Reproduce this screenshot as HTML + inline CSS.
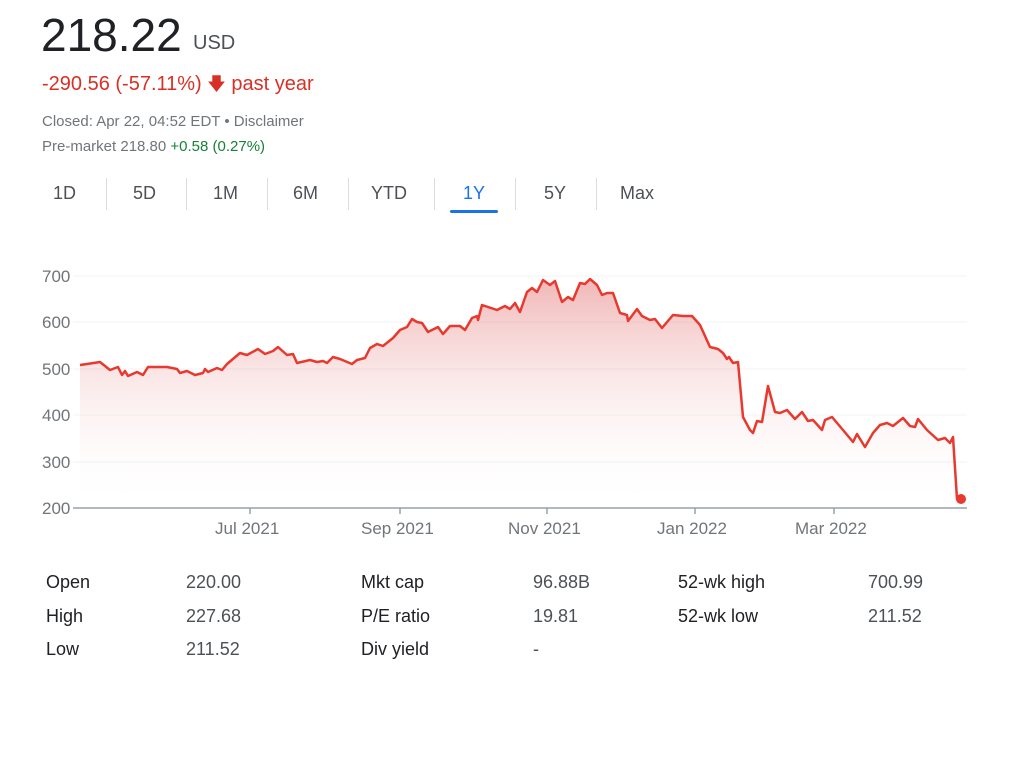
<!DOCTYPE html>
<html><head><meta charset="utf-8"><style>
body{margin:0;width:1024px;height:768px;background:#fff;font-family:"Liberation Sans",Arial,sans-serif;position:relative;overflow:hidden;color:#202124}
.a{position:absolute;white-space:nowrap}
.tab{position:absolute;top:183px;font-size:18px;color:#4d5156}
.sep{position:absolute;top:178px;width:1px;height:32px;background:#dadce0}
.st{position:absolute;font-size:18px;color:#202124}
.sv{position:absolute;font-size:18px;color:#4d5156}
</style></head><body>
<div class="a" style="left:41px;top:8px;font-size:46px;color:#202124">218.22</div>
<div class="a" style="left:193px;top:32px;font-size:20px;color:#4d5156">USD</div>
<div class="a" style="left:42px;top:72px;font-size:20px;color:#d93025">-290.56 (-57.11%) <span style="font-size:18px">&#129095;</span> past year</div>
<div class="a" style="left:42px;top:113px;font-size:15px;color:#70757a">Closed: Apr 22, 04:52 EDT • Disclaimer</div>
<div class="a" style="left:42px;top:138px;font-size:15px;color:#70757a">Pre-market 218.80 <span style="color:#188038">+0.58 (0.27%)</span></div>
<div class="tab" style="left:53px">1D</div><div class="sep" style="left:106px"></div>
<div class="tab" style="left:133px">5D</div><div class="sep" style="left:186px"></div>
<div class="tab" style="left:213px">1M</div><div class="sep" style="left:267px"></div>
<div class="tab" style="left:293px">6M</div><div class="sep" style="left:348px"></div>
<div class="tab" style="left:371px">YTD</div><div class="sep" style="left:434px"></div>
<div class="tab" style="left:463px;color:#1a73e8">1Y</div>
<div class="a" style="left:450px;top:210px;width:48px;height:3px;background:#1a73e8;border-radius:2px"></div>
<div class="sep" style="left:515px"></div>
<div class="tab" style="left:544px">5Y</div><div class="sep" style="left:596px"></div>
<div class="tab" style="left:620px">Max</div>
<svg class="a" style="left:0;top:0" width="1024" height="768">
<defs><linearGradient id="g" gradientUnits="userSpaceOnUse" x1="0" y1="280" x2="0" y2="508"><stop offset="0" stop-color="#e06060" stop-opacity="0.45"/><stop offset="1" stop-color="#fff" stop-opacity="0"/></linearGradient></defs>
<g stroke="#f1f3f4" stroke-width="1">
<line x1="73" y1="276" x2="967" y2="276"/><line x1="73" y1="322" x2="967" y2="322"/><line x1="73" y1="369" x2="967" y2="369"/><line x1="73" y1="415" x2="967" y2="415"/><line x1="73" y1="462" x2="967" y2="462"/></g>
<g font-size="17" fill="#70757a" font-family="Liberation Sans,Arial,sans-serif">
<text x="42" y="282">700</text><text x="42" y="328">600</text><text x="42" y="375">500</text><text x="42" y="421">400</text><text x="42" y="468">300</text><text x="42" y="514">200</text>
<text x="215" y="534">Jul 2021</text><text x="361" y="534">Sep 2021</text><text x="508" y="534">Nov 2021</text><text x="657" y="534">Jan 2022</text><text x="795" y="534">Mar 2022</text></g>
<path d="M80,365 L87,364 100,362 110,370 118,367 122,375 125,371 128,376 137,372 143,375 148,367 157,367 167,367 177,369 180,373 187,371 195,375 203,373 205,369 208,372 217,368 222,370 227,364 240,353 247,355 258,349 265,354 273,351 278,347 287,355 293,354 297,363 310,360 317,362 323,361 327,363 333,357 340,359 352,364 357,360 365,358 370,348 377,344 383,346 393,338 400,330 407,327 412,319 417,322 422,323 428,332 438,327 443,334 450,326 460,326 465,330 472,318 477,316 478,320 482,305 488,307 497,310 505,306 510,309 515,303 520,312 527,292 532,288 537,292 543,280 550,285 555,281 562,302 568,297 573,300 580,283 585,284 590,279 597,285 602,295 607,293 613,293 620,313 627,315 628,321 637,309 642,316 650,320 655,319 662,328 673,315 683,316 692,316 700,325 710,347 718,349 723,353 727,359 729,357 733,363 738,362 743,417 750,430 753,433 757,421 762,422 768,386 775,412 780,413 787,410 795,419 802,412 808,421 813,420 822,430 825,420 832,417 843,430 853,442 857,434 865,447 873,433 880,425 887,423 893,426 903,418 910,426 915,427 918,419 927,430 938,440 945,438 950,443 953,437 957,499 961,499 L961,508 80,508Z" fill="url(#g)" stroke="none"/>
<line x1="73" y1="508" x2="967" y2="508" stroke="#9aa0a6" stroke-width="1.5"/>
<g stroke="#9aa0a6" stroke-width="1.5"><line x1="250" y1="508" x2="250" y2="514"/><line x1="400" y1="508" x2="400" y2="514"/><line x1="547" y1="508" x2="547" y2="514"/><line x1="695" y1="508" x2="695" y2="514"/><line x1="834" y1="508" x2="834" y2="514"/></g>
<path d="M80,365 L87,364 100,362 110,370 118,367 122,375 125,371 128,376 137,372 143,375 148,367 157,367 167,367 177,369 180,373 187,371 195,375 203,373 205,369 208,372 217,368 222,370 227,364 240,353 247,355 258,349 265,354 273,351 278,347 287,355 293,354 297,363 310,360 317,362 323,361 327,363 333,357 340,359 352,364 357,360 365,358 370,348 377,344 383,346 393,338 400,330 407,327 412,319 417,322 422,323 428,332 438,327 443,334 450,326 460,326 465,330 472,318 477,316 478,320 482,305 488,307 497,310 505,306 510,309 515,303 520,312 527,292 532,288 537,292 543,280 550,285 555,281 562,302 568,297 573,300 580,283 585,284 590,279 597,285 602,295 607,293 613,293 620,313 627,315 628,321 637,309 642,316 650,320 655,319 662,328 673,315 683,316 692,316 700,325 710,347 718,349 723,353 727,359 729,357 733,363 738,362 743,417 750,430 753,433 757,421 762,422 768,386 775,412 780,413 787,410 795,419 802,412 808,421 813,420 822,430 825,420 832,417 843,430 853,442 857,434 865,447 873,433 880,425 887,423 893,426 903,418 910,426 915,427 918,419 927,430 938,440 945,438 950,443 953,437 957,499 961,499" fill="none" stroke="#e8392e" stroke-width="2.5" stroke-linejoin="round"/>
<circle cx="961" cy="499" r="5" fill="#e8392e"/>
</svg>
<div class="st" style="left:46px;top:572px">Open</div><div class="sv" style="left:186px;top:572px">220.00</div>
<div class="st" style="left:46px;top:606px">High</div><div class="sv" style="left:186px;top:606px">227.68</div>
<div class="st" style="left:46px;top:639px">Low</div><div class="sv" style="left:186px;top:639px">211.52</div>
<div class="st" style="left:361px;top:572px">Mkt cap</div><div class="sv" style="left:533px;top:572px">96.88B</div>
<div class="st" style="left:361px;top:606px">P/E ratio</div><div class="sv" style="left:533px;top:606px">19.81</div>
<div class="st" style="left:361px;top:639px">Div yield</div><div class="sv" style="left:533px;top:639px">-</div>
<div class="st" style="left:678px;top:572px">52-wk high</div><div class="sv" style="left:868px;top:572px">700.99</div>
<div class="st" style="left:678px;top:606px">52-wk low</div><div class="sv" style="left:868px;top:606px">211.52</div>
</body></html>
